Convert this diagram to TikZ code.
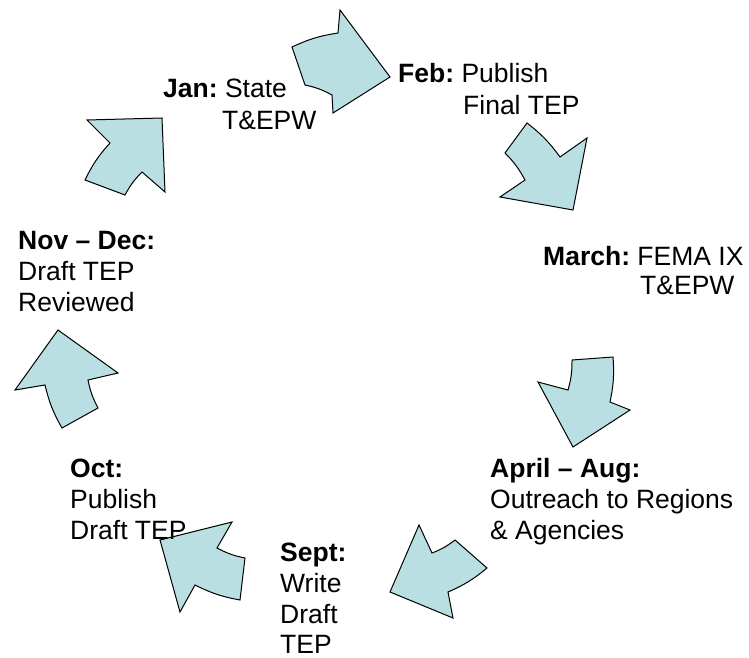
\documentclass[tikz,border=0pt]{standalone}
\usepackage{fontspec}
\setmainfont{Liberation Sans}
\frenchspacing
\definecolor{arrowfill}{RGB}{185,223,226}
\tikzset{
  cyclearrow/.style={draw=black, fill=arrowfill, line width=1pt, line join=miter},
  lbl/.style={anchor=base west, inner sep=0pt, font=\fontsize{26.5}{31}\selectfont},
  outer/.style={bend left=8},
  inner/.style={bend right=8}
}
\begin{document}
\begin{tikzpicture}[x=1pt,y=-1pt]
\useasboundingbox (0,0) rectangle (749,658);
% Arrow 1: Jan -> Feb
\coordinate (a1) at (292,47); \coordinate (a2) at (338,33); \coordinate (a3) at (340,10);
\coordinate (a4) at (390,77); \coordinate (a5) at (333,113); \coordinate (a6) at (332,95);
\coordinate (a7) at (305,85);
\draw[cyclearrow] (a1) to[outer] (a2) -- (a3) -- (a4) -- (a5) -- (a6) to[inner] (a7) -- cycle;
% Arrow 2: Feb -> March
\coordinate (b1) at (527,123); \coordinate (b2) at (560,157); \coordinate (b3) at (587,138);
\coordinate (b4) at (573,210); \coordinate (b5) at (500,197); \coordinate (b6) at (525,180);
\coordinate (b7) at (505,153);
\draw[cyclearrow] (b1) to[outer] (b2) -- (b3) -- (b4) -- (b5) -- (b6) to[inner] (b7) -- cycle;
% Arrow 3: March -> April
\coordinate (c1) at (572,360); \coordinate (c2) at (613,357); \coordinate (c3) at (610,402);
\coordinate (c4) at (630,410); \coordinate (c5) at (573,447); \coordinate (c6) at (538,382);
\coordinate (c7) at (568,390);
\draw[cyclearrow] (c1) -- (c2) to[outer] (c3) -- (c4) -- (c5) -- (c6) -- (c7) to[inner] (c1) -- cycle;
% Arrow 4: April -> Sept
\coordinate (d1) at (390,592); \coordinate (d2) at (419,525); \coordinate (d3) at (432,553);
\coordinate (d4) at (455,540); \coordinate (d5) at (487,568); \coordinate (d6) at (448,592);
\coordinate (d7) at (453,618);
\draw[cyclearrow] (d1) -- (d2) -- (d3) to[inner] (d4) -- (d5) to[outer] (d6) -- (d7) -- cycle;
% Arrow 5: Sept -> Oct
\coordinate (e1) at (160,540); \coordinate (e2) at (232,522); \coordinate (e3) at (217,548);
\coordinate (e4) at (245,558); \coordinate (e5) at (240,600); \coordinate (e6) at (195,585);
\coordinate (e7) at (180,612);
\draw[cyclearrow] (e1) -- (e2) -- (e3) to[inner] (e4) -- (e5) to[outer] (e6) -- (e7) -- cycle;
% Arrow 6: Oct -> Nov
\coordinate (f1) at (58,330); \coordinate (f2) at (118,373); \coordinate (f3) at (88,380);
\coordinate (f4) at (98,408); \coordinate (f5) at (62,428); \coordinate (f6) at (45,385);
\coordinate (f7) at (15,390);
\draw[cyclearrow] (f1) -- (f2) -- (f3) to[inner] (f4) -- (f5) to[outer] (f6) -- (f7) -- cycle;
% Arrow 7: Nov -> Jan
\coordinate (g1) at (87,120); \coordinate (g2) at (162,118); \coordinate (g3) at (165,192);
\coordinate (g4) at (142,172); \coordinate (g5) at (125,195); \coordinate (g6) at (85,180);
\coordinate (g7) at (110,143);
\draw[cyclearrow] (g1) -- (g2) -- (g3) -- (g4) to[inner] (g5) -- (g6) to[outer] (g7) -- cycle;
% Labels
\node[lbl] (jan1) at (163,98) {\textbf{Jan:} State};
\node[lbl] (jan2) at (222,129) {T\&EPW};
\node[lbl] (feb1) at (398,83) {\textbf{Feb:} Publish};
\node[lbl] (feb2) at (463,114) {Final TEP};
\node[lbl] (mar1) at (543,265) {\textbf{March:} FEMA IX};
\node[lbl] (mar2) at (640,294) {T\&EPW};
\node[lbl] (apr1) at (490,477) {\textbf{April – Aug:}};
\node[lbl] (apr2) at (490,508) {Outreach to Regions};
\node[lbl] (apr3) at (490,539) {\& Agencies};
\node[lbl] (sep1) at (280,561) {\textbf{Sept:}};
\node[lbl] (sep2) at (280,592) {Write};
\node[lbl] (sep3) at (280,623) {Draft};
\node[lbl] (sep4) at (280,653) {TEP};
\node[lbl] (oct1) at (70,477) {\textbf{Oct:}};
\node[lbl] (oct2) at (70,508) {Publish};
\node[lbl] (oct3) at (70,539) {Draft TEP};
\node[lbl] (nov1) at (18,249) {\textbf{Nov – Dec:}};
\node[lbl] (nov2) at (18,280) {Draft TEP};
\node[lbl] (nov3) at (18,311) {Reviewed};
\end{tikzpicture}
\end{document}
